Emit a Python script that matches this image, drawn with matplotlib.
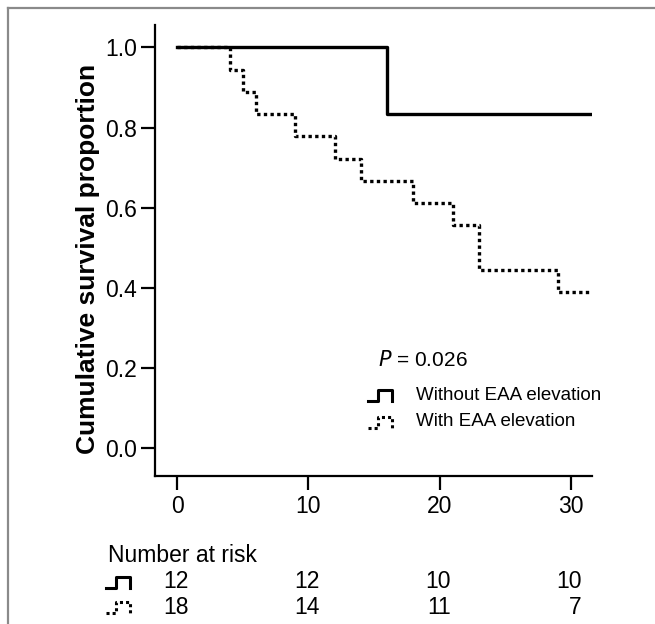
import matplotlib
matplotlib.use("Agg")
import matplotlib.pyplot as plt
from matplotlib.lines import Line2D

plt.rcParams['font.family'] = ['Liberation Sans', 'DejaVu Sans']

# survival steps (time of event, survival after event)
without_times = [0, 16, 31.6]
without_surv = [1.0, 0.833, 0.833]

with_times = [0, 4, 5, 6, 9, 12, 14, 18, 21, 23, 29, 31.6]
with_surv = [1.0, 0.944, 0.889, 0.833, 0.778, 0.722, 0.667, 0.611, 0.556, 0.444, 0.389, 0.389]

risk_times = [0, 10, 20, 30]
risk_without = [12, 12, 10, 10]
risk_with = [18, 14, 11, 7]

p_text = "0.026"
label_without = "Without EAA elevation"
label_with = "With EAA elevation"

W, H = 655, 624
fig = plt.figure(figsize=(W / 100, H / 100), dpi=100)
ax = fig.add_axes([155 / W, 1 - 476 / H, (591.7 - 155) / W, (476 - 25) / H])

ax.step(without_times, without_surv, where='post', color='black', lw=2.4)
ax.step(with_times, with_surv, where='post', color='black', lw=2.4, linestyle=(0, (1, 1)))

ax.set_xlim(-1.7, 31.6)
ax.set_ylim(-0.07, 1.056)
ax.set_xticks([0, 10, 20, 30])
ax.set_yticks([0.0, 0.2, 0.4, 0.6, 0.8, 1.0])
ax.set_yticklabels(['%.1f' % v for v in [0.0, 0.2, 0.4, 0.6, 0.8, 1.0]])
for s in ['top', 'right']:
    ax.spines[s].set_visible(False)
for s in ['left', 'bottom']:
    ax.spines[s].set_linewidth(1.6)
ax.tick_params(axis='both', length=10, width=1.6, labelsize=16.5, colors='black')
ax.tick_params(axis='y', pad=3)
ax.tick_params(axis='x', pad=4)
ax.set_ylabel('Cumulative survival proportion', fontsize=19, fontweight='bold')
ax.yaxis.set_label_coords(-0.125, 0.481)


def px(x, y):
    return x / W, 1 - y / H


def icon(x0, yc, dotted):
    # little step symbol used as legend key
    w, h = 24, 11
    xs = [x0, x0 + 0.4 * w, x0 + 0.4 * w, x0 + w, x0 + w]
    ys = [yc + h / 2, yc + h / 2, yc - h / 2, yc - h / 2, yc + h / 2]
    pts = [px(a, b) for a, b in zip(xs, ys)]
    ls = (0, (1, 1)) if dotted else '-'
    fig.add_artist(Line2D([p[0] for p in pts], [p[1] for p in pts], color='black',
                          lw=2.2, linestyle=ls, transform=fig.transFigure))


# p value and legend
fig.text(*px(378, 360), r'$\mathit{P}$ = ' + p_text, fontsize=15, va='center', ha='left')
icon(368, 395, False)
fig.text(*px(416, 395), label_without, fontsize=13.5, va='center', ha='left')
icon(368, 422, True)
fig.text(*px(416, 422), label_with, fontsize=13.5, va='center', ha='left')

# number at risk table
fig.text(*px(108, 555), 'Number at risk', fontsize=16.5, va='center', ha='left')
icon(106, 582, False)
icon(106, 607, True)
for t, a, b in zip(risk_times, risk_without, risk_with):
    xf = ax.transData.transform((t, 0))[0] / W + 11 / W
    fig.text(xf, 1 - 582 / H, str(a), fontsize=16.5, va='center', ha='right')
    fig.text(xf, 1 - 607 / H, str(b), fontsize=16.5, va='center', ha='right')

# grey frame around the figure
fig.add_artist(Line2D([7.5 / W, 7.5 / W], [0, 1 - 7.5 / H], color='#8a8a8a', lw=1.6, transform=fig.transFigure))
fig.add_artist(Line2D([7.5 / W, 1], [1 - 7.5 / H, 1 - 7.5 / H], color='#8a8a8a', lw=1.6, transform=fig.transFigure))

fig.savefig('out.png', dpi=100)
